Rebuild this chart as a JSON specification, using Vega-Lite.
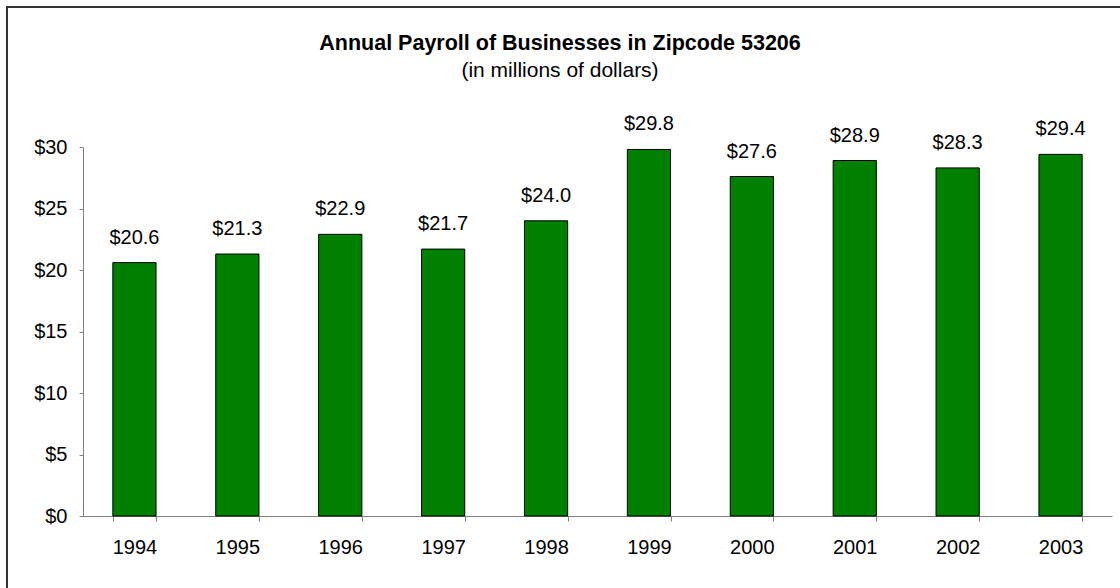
{
  "$schema": "https://vega.github.io/schema/vega-lite/v6.json",
  "width": 1115,
  "height": 583,
  "autosize": {"type": "none"},
  "padding": {"left": 7, "top": 7, "right": -2, "bottom": -2},
  "background": "white",
  "title": {
    "text": "Annual Payroll of Businesses in Zipcode 53206",
    "subtitle": "(in millions of dollars)",
    "anchor": "start",
    "frame": "group",
    "offset": -74,
    "dx": 553,
    "align": "center",
    "font": "Liberation Sans",
    "fontSize": 21.5,
    "fontWeight": "bold",
    "color": "#000000",
    "subtitleFont": "Liberation Sans",
    "subtitleFontSize": 21,
    "subtitleColor": "#000000",
    "subtitlePadding": 6
  },
  "data": {
    "values": [
      {"year": "1994", "payroll": 20.6},
      {"year": "1995", "payroll": 21.3},
      {"year": "1996", "payroll": 22.9},
      {"year": "1997", "payroll": 21.7},
      {"year": "1998", "payroll": 24.0},
      {"year": "1999", "payroll": 29.8},
      {"year": "2000", "payroll": 27.6},
      {"year": "2001", "payroll": 28.9},
      {"year": "2002", "payroll": 28.3},
      {"year": "2003", "payroll": 29.4}
    ]
  },
  "encoding": {
    "x": {
      "field": "year",
      "type": "ordinal",
      "scale": {"range": [76, 1105], "paddingInner": 0.58, "paddingOuter": 0.29},
      "axis": {
        "title": null,
        "offset": -74,
        "tickBand": "extent",
        "tickSize": 5,
        "labelPadding": 16,
        "labelAngle": 0,
        "labelFont": "Liberation Sans",
        "labelFontSize": 20,
        "labelColor": "#000000",
        "domainColor": "#808080",
        "tickColor": "#808080",
        "grid": false
      }
    },
    "y": {
      "field": "payroll",
      "type": "quantitative",
      "scale": {"domain": [0, 30], "range": [509, 140], "nice": false, "zero": true},
      "axis": {
        "title": null,
        "offset": -76,
        "values": [0, 5, 10, 15, 20, 25, 30],
        "format": "$d",
        "tickSize": 4,
        "labelPadding": 12,
        "labelFont": "Liberation Sans",
        "labelFontSize": 20,
        "labelColor": "#000000",
        "domainColor": "#808080",
        "tickColor": "#808080",
        "grid": false
      }
    }
  },
  "layer": [
    {"mark": {"type": "bar", "color": "#008000", "stroke": "#000000", "strokeWidth": 1}},
    {
      "mark": {"type": "text", "baseline": "alphabetic", "dy": -19, "font": "Liberation Sans", "fontSize": 20, "color": "#000000"},
      "encoding": {"text": {"field": "payroll", "type": "quantitative", "format": "$.1f"}}
    }
  ],
  "config": {"view": {"stroke": "#333333", "strokeWidth": 2}}
}
